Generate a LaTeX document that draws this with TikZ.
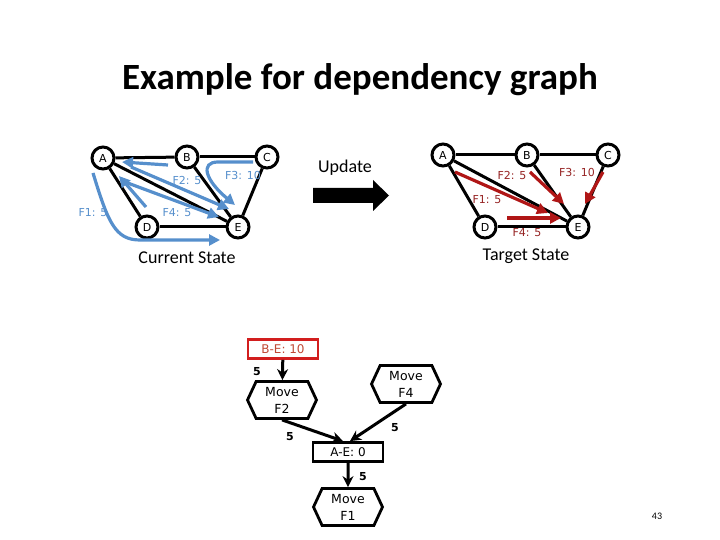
\documentclass[tikz,border=0pt]{standalone}
\usepackage{fontspec}
\setmainfont{Carlito}
\newfontfamily\lblfont{DejaVu Sans}
\usetikzlibrary{arrows.meta, positioning, shapes.symbols}

\definecolor{flowblue}{RGB}{86,143,204}
\definecolor{flowred}{RGB}{176,22,22}
\definecolor{lblred}{RGB}{150,36,36}
\definecolor{boxred}{RGB}{210,30,30}
\definecolor{boxtext}{RGB}{192,72,52}

\begin{document}
\begin{tikzpicture}[
        x=1pt, y=-1pt,
        every node/.style={font=\lblfont\fontsize{11}{13}\selectfont},
        vtx/.style={
            circle,
            draw,
            line width=3pt,
            fill=white,
            minimum size=22,
            inner sep=0pt
        },
        edge/.style={line width=3pt},
        flowb/.style={line width=3.2pt, draw=flowblue, -{Triangle[length=11pt,width=11pt]}},
        flowr/.style={line width=3.2pt, draw=flowred, -{Triangle[length=11pt,width=11pt]}},
        lblb/.style={text=flowblue},
        lblr/.style={text=lblred},
        heading/.style={font=\rmfamily\fontsize{18}{20}\selectfont},
        depbox/.style={
            rectangle,
            draw,
            line width=2.8pt,
            minimum width=70,
            minimum height=19,
            inner sep=1pt,
            font=\lblfont\fontsize{12}{13}\selectfont
        },
        movebox/.style={
            signal,
            signal to=west and east,
            signal pointer angle=130,
            draw,
            line width=2.8pt,
            minimum width=69,
            minimum height=37,
            align=center,
            inner sep=1pt,
            font=\lblfont\fontsize{12.5}{17}\selectfont
        },
        dep/.style={line width=3pt, -{Stealth[length=11pt,width=11pt]}},
        num/.style={font=\lblfont\bfseries\fontsize{11}{12}\selectfont}
    ]

    \useasboundingbox (0,0) rectangle (720,540);

    % Title
    \node[font=\rmfamily\bfseries\fontsize{37}{40}\selectfont] (title) at (360,80) {Example for dependency graph};

    % Current state graph
    \node[vtx] (la) at (103,158) {A};
    \node[vtx] (lb) at (187,157) {B};
    \node[vtx] (lc) at (267,157) {C};
    \node[vtx] (ld) at (147,227) {D};
    \node[vtx] (le) at (238,227) {E};

    \draw[edge] (la) -- (lb);
    \draw[edge] (lb) -- (lc);
    \draw[edge] (la) -- (ld);
    \draw[edge] (la) -- (le);
    \draw[edge] (lb) -- (le);
    \draw[edge] (lc) -- (le);
    \draw[edge] (ld) -- (le);

    % Current flows
    \coordinate (f1s) at (93,173);
    \coordinate (f1e) at (220,240);
    \coordinate (f2s) at (168,165);
    \coordinate (f2m) at (122,162);
    \coordinate (f2n) at (131,167);
    \coordinate (f2e) at (229,209);
    \coordinate (f3s) at (253,162);
    \coordinate (f3e) at (235,205);
    \coordinate (f4s) at (146,207);
    \coordinate (f4m) at (119,176);
    \coordinate (f4n) at (125,182);
    \coordinate (f4e) at (219,217);

    \draw[flowb] (f1s) .. controls (108,222) and (115,240) .. (140,240) -- (f1e);
    \draw[flowb] (f2s) -- (f2m);
    \draw[flowb] (f2n) -- (f2e);
    \draw[flowb] (f3s) -- (218,162) .. controls (200,162) and (205,180) .. (f3e);
    \draw[flowb] (f4s) -- (f4m);
    \draw[flowb] (f4n) -- (f4e);

    \node[lblb] (lf1) at (93,213) {F1: 5};
    \node[lblb] (lf2) at (187,180) {F2: 5};
    \node[lblb] (lf3) at (243,175) {F3: 10};
    \node[lblb] (lf4) at (177,213) {F4: 5};

    \node[heading] (cur) at (187,258) {Current State};

    % Update arrow
    \fill (313,188) -- (373,188) -- (373,180) -- (389,195.5) -- (373,211) -- (373,203) -- (313,203) -- cycle;
    \node[heading] (upd) at (345,168) {Update};

    % Target state graph
    \node[vtx] (ra) at (443,155) {A};
    \node[vtx] (rb) at (527,155) {B};
    \node[vtx] (rc) at (608,155) {C};
    \node[vtx] (rd) at (485,227) {D};
    \node[vtx] (re) at (578,227) {E};

    \draw[edge] (ra) -- (rb);
    \draw[edge] (rb) -- (rc);
    \draw[edge] (ra) -- (rd);
    \draw[edge] (ra) -- (re);
    \draw[edge] (rb) -- (re);
    \draw[edge] (rc) -- (re);
    \draw[edge] (rd) -- (re);

    % Target flows
    \coordinate (g1s) at (455,172);
    \coordinate (g1e) at (548,213);
    \coordinate (g2s) at (530,172);
    \coordinate (g2e) at (564,204);
    \coordinate (g3s) at (603,172);
    \coordinate (g3e) at (585,204);
    \coordinate (g4s) at (507,218);
    \coordinate (g4e) at (561,218);

    \draw[flowr] (g1s) -- (g1e);
    \draw[flowr] (g2s) -- (g2e);
    \draw[flowr] (g3s) -- (g3e);
    \draw[flowr] (g4s) -- (g4e);

    \node[lblr] (rf1) at (487,200) {F1: 5};
    \node[lblr] (rf2) at (512,175) {F2: 5};
    \node[lblr] (rf3) at (577,172) {F3: 10};
    \node[lblr] (rf4) at (527,233) {F4: 5};

    \node[heading] (tgt) at (526,256) {Target State};

    % Dependency graph
    \node[depbox, draw=boxred, text=boxtext] (be) at (283,349) {B-E: 10};
    \node[movebox] (mf2) at (282,400) {Move\\F2};
    \node[movebox] (mf4) at (406,384) {Move\\F4};
    \node[depbox] (ae) at (348,452) {A-E: 0};
    \node[movebox] (mf1) at (348,507) {Move\\F1};

    \draw[dep] (be) -- (mf2);
    \draw[dep] (mf2.south) -- ([xshift=-5pt]ae.north);
    \draw[dep] (mf4.south) -- ([xshift=2pt]ae.north);
    \draw[dep] (ae) -- (mf1);

    \node[num] (n1) at (257,372) {5};
    \node[num] (n2) at (290,437) {5};
    \node[num] (n3) at (395,428) {5};
    \node[num] (n4) at (363,477) {5};

    % Page number
    \node[font=\rmfamily\fontsize{10}{12}\selectfont] (page) at (657,516) {43};

\end{tikzpicture}
\end{document}
